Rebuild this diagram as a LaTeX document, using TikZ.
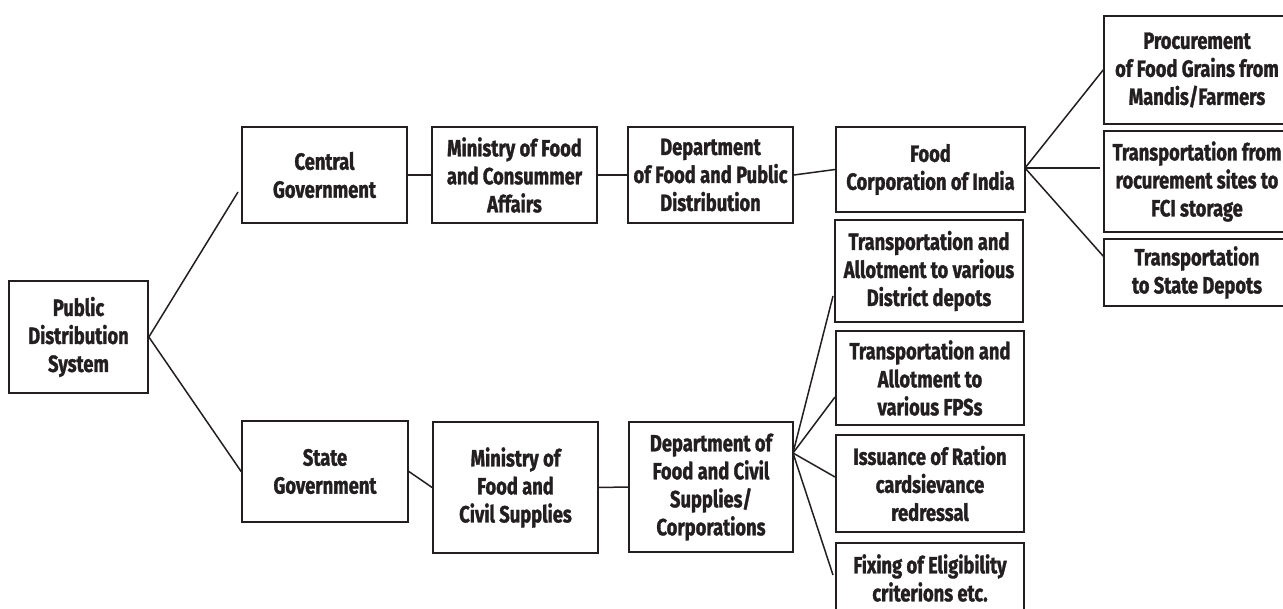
\documentclass[tikz,border=0pt]{standalone}
\usepackage{fontspec}
\setmainfont{Fira Sans}[FakeStretch=0.78, BoldFeatures={FakeBold=1.3}]
\definecolor{ink}{HTML}{231F20}
\begin{document}
\begin{tikzpicture}[x=1pt,y=-1pt,
  box/.style={draw=ink, line width=1.7pt, align=center, inner sep=0pt, text=ink,
    font=\fontsize{23.5}{28}\selectfont\bfseries},
  sz/.style 2 args={minimum width=#1pt, minimum height=#2pt},
  conn/.style={draw=ink, line width=1.5pt}]
\clip (0,0) rectangle (1283,609);
\fill[white] (0,0) rectangle (1283,609);
% left column
\node[box, sz={139}{112}] (pds) at (78.5,337) {Public\\Distribution\\System};
\node[box, sz={165}{96}] (cg) at (324.5,175) {Central\\Government};
\node[box, sz={166}{101}] (sg) at (325,471.5) {State\\Government};
% central row
\node[box, sz={165}{96}] (mfca) at (514.5,175) {Ministry of Food\\and Consummer\\Affairs};
\node[box, sz={165}{96}] (dfpd) at (710.5,175) {Department\\of Food and Public\\Distribution};
\node[box, sz={189}{85}] (fci) at (930.5,169.5) {Food\\Corporation of India};
\node[box, sz={186}{108}] (proc) at (1197,70) {Procurement\\of Food Grains from\\Mandis/Farmers};
\node[box, sz={186}{101}] (tfrom) at (1197,181.5) {Transportation from\\rocurement sites to\\FCI storage};
\node[box, sz={186}{67}] (tstate) at (1197,272.5) {Transportation\\to State Depots};
% state row
\node[box, sz={165}{131}] (mfcs) at (515.5,487.5) {Ministry of\\Food and\\Civil Supplies};
\node[box, sz={164}{130}] (dfcs) at (711,487) {Department of\\Food and Civil\\Supplies/\\Corporations};
\node[box, sz={188}{102}] (dist) at (929,271) {Transportation and\\Allotment to various\\District depots};
\node[box, sz={188}{94}] (fps) at (930,378) {Transportation and\\Allotment to\\various FPSs};
\node[box, sz={188}{97}] (iss) at (930,483.5) {Issuance of Ration\\cardsievance\\redressal};
\node[box, sz={188}{70}] (fix) at (930,578) {Fixing of Eligibility\\criterions etc.};
% connector end points
\coordinate (cgin) at (238,192);
\coordinate (fciout) at (1025,168);
\coordinate (tfromin) at (1100,168);
\coordinate (tstatein) at (1104,257);
\coordinate (fan) at (793,453);
\coordinate (distin) at (833,296);
\coordinate (fpsin) at (835,397);
\coordinate (issin) at (835,477);
\coordinate (fixin) at (833,575);
% connectors
\draw[conn] (cgin) -- (pds.east) -- (sg.west);
\draw[conn] (cg.east) -- (mfca.west);
\draw[conn] (mfca.east) -- (dfpd.west);
\draw[conn] (dfpd.east) -- (fci.west);
\draw[conn] (fciout) -- (proc.west);
\draw[conn] (fciout) -- (tfromin);
\draw[conn] (fciout) -- (tstatein);
\draw[conn] (sg.east) -- (mfcs.west);
\draw[conn] (mfcs.east) -- (dfcs.west);
\draw[conn] (fan) -- (distin);
\draw[conn] (fan) -- (fpsin);
\draw[conn] (fan) -- (issin);
\draw[conn] (fan) -- (fixin);
\end{tikzpicture}
\end{document}
